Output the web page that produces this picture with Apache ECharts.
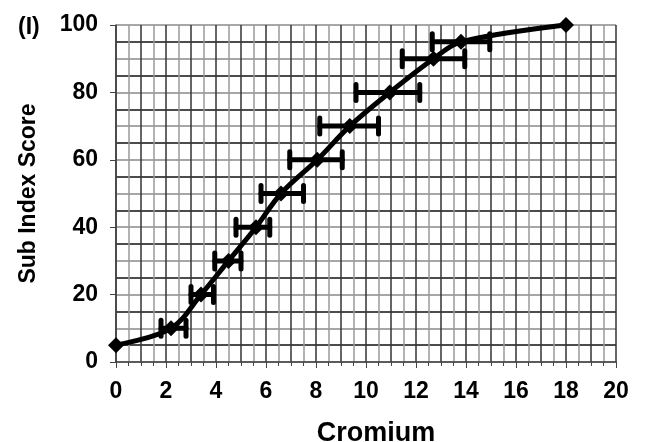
<!DOCTYPE html>
<html>
<head>
<meta charset="utf-8">
<script src="https://cdn.jsdelivr.net/npm/echarts@6/dist/echarts.min.js"></script>
<style>
  html, body { margin: 0; padding: 0; background: #fff; }
  #chart { width: 645px; height: 442px; }
</style>
</head>
<body>
<div id="chart"></div>
<script>
// Chromium concentration vs. sub index score, with horizontal error ranges
var cromium = [0, 2.2, 3.4, 4.5, 5.6, 6.6, 8.05, 9.35, 10.95, 12.7, 13.8, 18];
var score   = [5, 10, 20, 30, 40, 50, 60, 70, 80, 90, 95, 100];
var errLow  = [null, 1.8, 3.0, 3.95, 4.8, 5.8, 6.95, 8.15, 9.6, 11.45, 12.65, null];
var errHigh = [null, 2.8, 3.9, 5.0, 6.15, 7.5, 9.05, 10.5, 12.15, 13.95, 14.95, null];
var xTicks = [0, 2, 4, 6, 8, 10, 12, 14, 16, 18, 20];
var yTicks = [0, 20, 40, 60, 80, 100];

var FONT = 'Liberation Sans, Arial, Helvetica, sans-serif';

var linePoints = cromium.map(function (x, i) { return [x, score[i]]; });
var barData = [];
for (var i = 0; i < cromium.length; i++) {
  if (errLow[i] != null && errHigh[i] != null) {
    barData.push([errLow[i], errHigh[i], score[i]]);
  }
}

var chart = echarts.init(document.getElementById('chart'), null, { renderer: 'canvas' });

chart.setOption({
  backgroundColor: '#ffffff',
  animation: false,
  title: {
    text: '(I)',
    left: 13, top: 11,
    textStyle: { fontFamily: FONT, fontWeight: 'bold', fontSize: 23, color: '#000' }
  },
  grid: { left: 116, right: 29, top: 25, bottom: 80, containLabel: false, outerBoundsMode: 'none' },
  xAxis: [{
    type: 'value', min: xTicks[0], max: xTicks[xTicks.length - 1], interval: 2,
    name: 'Cromium', nameLocation: 'middle', nameGap: 58,
    nameTextStyle: { fontFamily: FONT, fontWeight: 'bold', fontSize: 27, color: '#000', padding: [0, 0, 0, 20] },
    axisLine: { lineStyle: { color: '#444', width: 1.5 } },
    axisTick: { length: 6, lineStyle: { color: '#444' } },
    minorTick: { show: true, splitNumber: 4, length: 4, lineStyle: { color: '#444' } },
    axisLabel: { fontFamily: FONT, fontWeight: 'bold', fontSize: 23, color: '#000', margin: 18 },
    splitLine: { show: false }
  }, {
    // fine vertical grid every 0.5
    type: 'value', min: 0, max: 20, interval: 0.5, position: 'bottom',
    axisLine: { show: false }, axisTick: { show: false }, axisLabel: { show: false },
    splitLine: { show: true, lineStyle: { color: ['#333', '#9a9a9a'], width: 1.5 } }
  }],
  yAxis: [{
    type: 'value', min: yTicks[0], max: yTicks[yTicks.length - 1], interval: 20,
    name: 'Sub Index Score', nameLocation: 'middle', nameGap: 76,
    nameTextStyle: { fontFamily: FONT, fontWeight: 'bold', fontSize: 23, color: '#000' },
    axisLine: { show: true, lineStyle: { color: '#444', width: 1.5 } },
    axisTick: { show: true, length: 6, lineStyle: { color: '#444' } },
    axisLabel: { fontFamily: FONT, fontWeight: 'bold', fontSize: 23, color: '#000', margin: 18 },
    splitLine: { show: false }
  }, {
    // horizontal grid every 5
    type: 'value', min: 0, max: 100, interval: 5, position: 'left',
    axisLine: { show: false }, axisTick: { show: false }, axisLabel: { show: false },
    splitLine: { show: true, lineStyle: { color: ['#8a8a8a', '#111'], width: 1.5 } }
  }],
  series: [{
    type: 'custom',
    name: 'range',
    xAxisIndex: 0, yAxisIndex: 0,
    data: barData,
    z: 3,
    renderItem: function (params, api) {
      var lo = api.coord([api.value(0), api.value(2)]);
      var hi = api.coord([api.value(1), api.value(2)]);
      var h = 8;
      var style = { stroke: '#000', lineWidth: 5, lineCap: 'round' };
      return {
        type: 'group',
        children: [
          { type: 'line', shape: { x1: lo[0], y1: lo[1], x2: hi[0], y2: hi[1] }, style: style },
          { type: 'line', shape: { x1: lo[0], y1: lo[1] - h, x2: lo[0], y2: lo[1] + h }, style: style },
          { type: 'line', shape: { x1: hi[0], y1: hi[1] - h, x2: hi[0], y2: hi[1] + h }, style: style }
        ]
      };
    }
  }, {
    type: 'line',
    name: 'score',
    xAxisIndex: 0, yAxisIndex: 0,
    data: linePoints,
    smooth: 0.35,
    symbol: 'diamond',
    symbolSize: 16,
    itemStyle: { color: '#000' },
    lineStyle: { color: '#000', width: 5 },
    z: 4
  }]
});
</script>
</body>
</html>
